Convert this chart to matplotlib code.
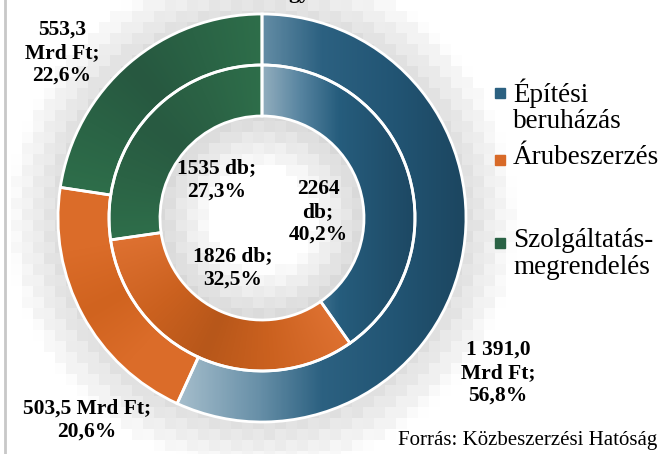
import numpy as np
import matplotlib
matplotlib.use('Agg')
import matplotlib.pyplot as plt
from matplotlib.colors import LinearSegmentedColormap
from matplotlib.patches import Rectangle

plt.rcParams['font.family'] = ['Liberation Serif', 'DejaVu Serif']

# data
categories = ['Építési beruházás', 'Árubeszerzés', 'Szolgáltatás-megrendelés']
legend_labels = ['Építési\nberuházás', 'Árubeszerzés', 'Szolgáltatás-\nmegrendelés']
value_mrd = [1391.0, 503.5, 553.3]      # Mrd Ft (outer ring)
value_db = [2264, 1826, 1535]           # db (inner ring)
outer_labels = ['1 391,0\nMrd Ft;\n56,8%', '503,5 Mrd Ft;\n20,6%', '553,3\nMrd Ft;\n22,6%']
inner_labels = ['2264\ndb;\n40,2%', '1826 db;\n32,5%', '1535 db;\n27,3%']
source = 'Forrás: Közbeszerzési Hatóság'

W, H = 661, 454
fig = plt.figure(figsize=(W / 100, H / 100), dpi=100)
fig.patch.set_facecolor('white')

# pixelated soft shadow in the background
bg = fig.add_axes([0, 0, 1, 1], zorder=0)
bg.set_xlim(0, W)
bg.set_ylim(H, 0)
bg.axis('off')
blk = 11
nx, ny = W // blk + 1, H // blk + 1
cx, cy = 262, 218
gx = (np.arange(nx) + 0.5) * blk
gy = (np.arange(ny) + 0.5) * blk
GX, GY = np.meshgrid(gx, gy)
d = np.hypot(GX - cx, GY - cy)
dark = np.where(d > 190, np.clip(1 - (d - 200) / 55, 0, 1) * 0.13, 0)
dark += np.where(d < 110, np.clip(1 - (100 - d) / 50, 0, 1) * 0.14, 0)
chk = ((np.arange(nx)[None, :] + np.arange(ny)[:, None]) % 2) * 0.015
dark = np.where(dark > 0.01, dark + chk, dark)
img = 1 - dark
bg.imshow(img, cmap='gray', vmin=0, vmax=1, extent=(0, nx * blk, ny * blk, 0),
          interpolation='nearest', aspect='auto')
bg.plot([5, 5], [0, H], color='#c8c8c8', lw=2)
bg.text(288, -2, 'gy', fontsize=16, fontweight='bold', va='baseline')

# donut axes
R = 204
ax = fig.add_axes([(cx - R) / W, (H - cy - R) / H, 2 * R / W, 2 * R / H], zorder=2)
ax.axis('off')

wp = dict(width=0.25, edgecolor='white', linewidth=2)
outer, _ = ax.pie(value_mrd, radius=1, startangle=90, counterclock=False, wedgeprops=wp)
inner, _ = ax.pie(value_db, radius=0.75, startangle=90, counterclock=False, wedgeprops=wp)
ax.set_xlim(-1, 1)
ax.set_ylim(-1, 1)

def cm(cols):
    return LinearSegmentedColormap.from_list('c', cols)

def shade(w, cmap, mode):
    ext = w.get_path().get_extents()
    x0, y0, x1, y1 = ext.x0, ext.y0, ext.x1, ext.y1
    xs = np.linspace(x0, x1, 300)
    ys = np.linspace(y0, y1, 300)
    X, Y = np.meshgrid(xs, ys)
    if mode == 'x':
        v = (X - x0) / (x1 - x0)
    else:
        th = np.degrees(np.arctan2(Y, X))
        t = ((th - w.theta1) % 360) / (w.theta2 - w.theta1)
        v = np.clip(np.abs(2 * t - 1), 0, 1)
    im = ax.imshow(v, cmap=cmap, vmin=0, vmax=1, extent=(x0, x1, y0, y1),
                   origin='lower', aspect='auto', zorder=1, interpolation='bilinear')
    im.set_clip_path(w)
    w.set_facecolor('none')
    w.set_zorder(3)

shade(outer[0], cm([(0, '#a6becc'), (0.28, '#6890a8'), (0.5, '#2c6181'),
                    (0.75, '#225574'), (1, '#1c4660')]), 'x')
shade(inner[0], cm([(0, '#93aebe'), (0.25, '#5784a0'), (0.5, '#265d7d'),
                    (1, '#1d4863')]), 'x')
shade(outer[1], cm(['#d0631f', '#db6c29', '#dc6d2a']), 'a')
shade(inner[1], cm([(0, '#b7571a'), (0.45, '#cb611f'), (1, '#de7131')]), 'a')
shade(outer[2], cm(['#275840', '#2a6345', '#2e6e4a']), 'a')
shade(inner[2], cm(['#285a41', '#2b6345', '#2e6e4a']), 'a')

def px(p, q):
    return (p - cx) / R, (cy - q) / R

lab = dict(fontsize=15.5, fontweight='bold', ha='center', va='center',
           linespacing=1.2, zorder=5)
outer_pos = [(498, 373), (87, 420), (62, 53)]
inner_pos = [(318, 212), (233, 268), (217, 180)]
for t, p in zip(outer_labels, outer_pos):
    ax.text(*px(*p), t, **lab)
for t, p in zip(inner_labels, inner_pos):
    ax.text(*px(*p), t, **lab)

# legend
leg_cols = ['#2c6181', '#d86a28', '#2a6245']
leg_y = [93, 160, 243]
for c, y, t in zip(leg_cols, leg_y, legend_labels):
    bg.add_patch(Rectangle((495, y - 5), 10, 10, color=c, zorder=3))
    bg.text(513, y - 15, t, fontsize=19.5, va='top', ha='left', linespacing=1.1)

bg.text(657, 445, source, fontsize=15, ha='right', va='baseline')

fig.savefig('out.png', dpi=100)
